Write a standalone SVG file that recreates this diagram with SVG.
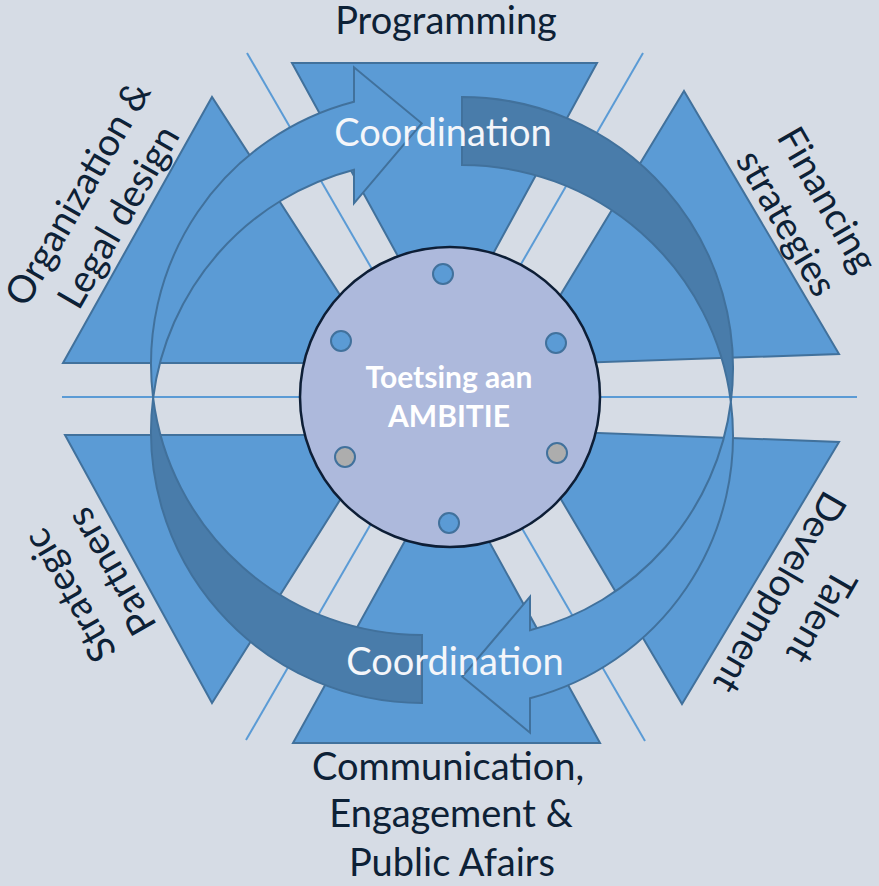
<svg xmlns="http://www.w3.org/2000/svg" width="879" height="886" viewBox="0 0 879 886">
<style>
.tri{fill:#5B9BD5;stroke:#41719C;stroke-width:2;stroke-linejoin:miter}
.sep{stroke:#5B9BD5;stroke-width:2;fill:none}
.front{fill:#5B9BD5;stroke:#41719C;stroke-width:2;stroke-linejoin:miter}
.back{fill:#497CAA;stroke:#41719C;stroke-width:2}
.lbl{font-family:Lato,"Open Sans",sans-serif;font-size:38px;fill:#0D2136;text-anchor:middle}
.coord{font-family:Lato,"Open Sans",sans-serif;font-size:38px;fill:#F4F6FA;text-anchor:middle}
.hub{font-family:Lato,"Open Sans",sans-serif;font-size:30px;font-weight:bold;fill:#FFFFFF;text-anchor:middle}
.dot{fill:#5B9BD5;stroke:#41719C;stroke-width:2}
.dotg{fill:#ADADAD;stroke:#41719C;stroke-width:2}
</style>
<rect width="879" height="886" fill="#D6DCE5"/>
<g id="separators">
<line class="sep" x1="62" y1="397" x2="857" y2="397"/>
<line class="sep" x1="247" y1="53" x2="645" y2="741"/>
<line class="sep" x1="643" y1="53" x2="246" y2="740"/>
</g>
<g id="node-programming">
<polygon class="tri" points="292,63 597,63 445,342"/>
<text class="lbl" x="446" y="34">Programming</text>
</g>
<g id="node-financing">
<polygon class="tri" points="684,91 839,354 518,365"/>
<g transform="translate(816,206) rotate(60)">
<text class="lbl" x="0" y="0">Financing</text>
<text class="lbl" x="0" y="47">strategies</text>
</g>
</g>
<g id="node-talent">
<polygon class="tri" points="839,442 682,704 520,430"/>
<g transform="translate(810,610) rotate(120)">
<text class="lbl" x="0" y="0">Talent</text>
<text class="lbl" x="0" y="48">Development</text>
</g>
</g>
<g id="node-communication">
<polygon class="tri" points="600,743 293,743 447,465"/>
<text class="lbl" x="448" y="780">Communication,</text>
<text class="lbl" x="451" y="827">Engagement &amp;</text>
<text class="lbl" x="452" y="876">Public Afairs</text>
</g>
<g id="node-partners">
<polygon class="tri" points="212,703 65,435 381,435"/>
<g transform="translate(81,589) rotate(-120)">
<text class="lbl" x="0" y="0">Strategic</text>
<text class="lbl" x="0" y="48">Partners</text>
</g>
</g>
<g id="node-organization">
<polygon class="tri" points="63,363 212,97 384,363"/>
<g transform="translate(89,200) rotate(-60)">
<text class="lbl" x="0" y="0">Organization &amp;</text>
<text class="lbl" x="0" y="47">Legal design</text>
</g>
</g>
<g id="connectors">
<g id="arrow-left">
<path class="back" d="M422,703 A271,271 0 0 1 153.14,398 A271,271 0 0 0 422,635 Z"/>
<path class="front" d="M153.14,398 A271,271 0 0 1 354,101.7 L354,67.3 L421.7,123.3 L354,203.3 L354,169.7 A271,271 0 0 0 153.14,398 Z"/>
</g>
<g id="arrow-right">
<path class="back" d="M462,97 A271,271 0 0 1 730.86,402 A271,271 0 0 0 462,165 Z"/>
<path class="front" d="M730.86,402 A271,271 0 0 1 530,698.3 L530,732.7 L462.3,676.7 L530,596.7 L530,630.3 A271,271 0 0 0 730.86,402 Z"/>
</g>
<text class="coord" x="443" y="146">Coordination</text>
<text class="coord" x="455" y="675">Coordination</text>
</g>
<g id="node-ambitie">
<circle cx="450" cy="397" r="150" fill="#ADB9DC" stroke="#0D1E36" stroke-width="2.5"/>
<circle class="dot" cx="443" cy="274" r="10"/>
<circle class="dot" cx="341" cy="341" r="10"/>
<circle class="dot" cx="556" cy="343" r="10"/>
<circle class="dotg" cx="345" cy="457" r="10"/>
<circle class="dotg" cx="557" cy="453" r="10"/>
<circle class="dot" cx="449" cy="523" r="10"/>
<text class="hub" x="449" y="388">Toetsing aan</text>
<text class="hub" x="449" y="427">AMBITIE</text>
</g>
</svg>
